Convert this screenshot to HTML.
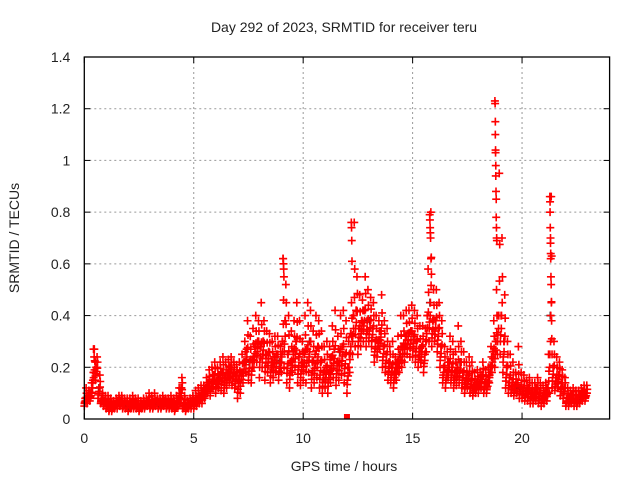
<!DOCTYPE html>
<html><head><meta charset="utf-8"><style>
body{margin:0;background:#fff}
svg text{font-family:"Liberation Sans",sans-serif;font-size:14px;fill:#222}
</style></head><body>
<svg id="c" width="640" height="480">
<text x="344" y="32" text-anchor="middle">Day 292 of 2023, SRMTID for receiver teru</text>
<text x="344" y="471" text-anchor="middle">GPS time / hours</text>
<text transform="translate(19,238) rotate(-90)" text-anchor="middle">SRMTID / TECUs</text>
<g id="grid"></g><g id="marks"></g><g id="axes"></g>
</svg>
<script>
const xTicks=[0,5,10,15,20];
const yTicks=[0,0.2,0.4,0.6,0.8,1,1.2,1.4];
const yTickLabels=["0","0.2","0.4","0.6","0.8","1","1.2","1.4"];
const binStart=0, binStep=0.125;
const loVals=[.05,.06,.07,.12,.15,.08,.06,.05,.04,.03,.03,.04,.04,.05,.04,.04,.03,.04,.04,.04,.03,.04,.04,.05,.04,.04,.05,.04,.04,.05,.04,.04,.04,.03,.05,.06,.04,.03,.04,.04,.04,.05,.06,.06,.08,.10,.09,.12,.10,.12,.11,.10,.12,.14,.13,.12,.08,.10,.14,.18,.15,.14,.20,.22,.16,.20,.15,.18,.14,.16,.18,.15,.18,.20,.14,.12,.18,.20,.14,.13,.15,.14,.18,.12,.14,.16,.12,.10,.12,.10,.14,.16,.13,.15,.17,.14,.10,.18,.25,.28,.25,.28,.30,.28,.30,.28,.22,.24,.27,.20,.18,.15,.14,.12,.15,.18,.20,.22,.25,.24,.24,.22,.20,.22,.18,.26,.30,.28,.30,.26,.20,.14,.12,.16,.14,.12,.13,.14,.12,.10,.12,.10,.09,.10,.10,.12,.10,.10,.14,.18,.20,.25,.25,.18,.12,.10,.10,.09,.10,.08,.08,.07,.07,.06,.06,.07,.06,.05,.06,.07,.10,.12,.11,.12,.09,.08,.05,.05,.06,.05,.05,.06,.07,.07];
const midVals=[.08,.09,.10,.18,.20,.12,.08,.07,.06,.05,.05,.06,.07,.07,.06,.06,.05,.06,.06,.06,.05,.06,.06,.07,.06,.06,.07,.06,.06,.07,.06,.06,.06,.05,.08,.12,.06,.05,.06,.07,.07,.08,.09,.10,.12,.14,.14,.17,.15,.17,.18,.16,.18,.20,.18,.17,.15,.18,.22,.27,.22,.23,.28,.30,.28,.30,.25,.26,.22,.24,.25,.22,.30,.38,.25,.22,.26,.30,.24,.22,.25,.27,.30,.22,.25,.28,.22,.18,.20,.18,.24,.27,.22,.26,.28,.25,.20,.33,.40,.42,.35,.38,.42,.38,.38,.35,.30,.30,.34,.28,.25,.22,.20,.18,.22,.25,.28,.32,.33,.34,.32,.30,.26,.28,.25,.40,.45,.38,.38,.35,.28,.20,.18,.22,.20,.18,.20,.22,.18,.15,.17,.15,.13,.14,.14,.17,.14,.14,.20,.26,.30,.40,.40,.30,.20,.16,.14,.13,.14,.12,.12,.11,.12,.10,.10,.12,.10,.09,.10,.12,.40,.20,.16,.17,.14,.12,.08,.08,.09,.08,.08,.09,.10,.10];
const hiVals=[.12,.11,.14,.27,.24,.17,.10,.09,.09,.08,.07,.08,.09,.09,.08,.08,.08,.09,.08,.08,.07,.08,.08,.10,.09,.10,.08,.08,.09,.08,.08,.09,.08,.09,.12,.16,.09,.07,.08,.09,.11,.12,.13,.13,.16,.19,.20,.22,.20,.22,.24,.22,.23,.24,.22,.21,.22,.25,.30,.38,.32,.35,.40,.38,.45,.38,.34,.33,.30,.32,.32,.28,.62,.52,.40,.34,.38,.45,.38,.30,.40,.45,.42,.34,.40,.38,.34,.28,.30,.28,.36,.42,.32,.40,.42,.38,.30,.45,.76,.55,.48,.46,.55,.50,.47,.45,.40,.38,.48,.38,.35,.28,.30,.24,.32,.40,.40,.42,.42,.44,.42,.40,.36,.36,.35,.58,.80,.50,.50,.45,.38,.28,.26,.32,.30,.26,.36,.30,.26,.22,.24,.22,.18,.19,.18,.22,.19,.20,.28,.38,.50,.95,.70,.48,.30,.25,.22,.18,.28,.18,.17,.15,.16,.14,.14,.16,.14,.13,.14,.25,.86,.30,.24,.22,.19,.16,.12,.11,.12,.11,.11,.12,.13,.13];
const spikeTimes=[18.76,18.77,18.78,18.78,18.79,18.79,18.8,18.8,18.81,18.82,18.82,18.83,18.84,18.85,21.27,21.28,21.28,21.29,21.3,21.3,21.31,21.31,21.32,21.33,21.34,21.35,21.36,21.37,15.78,15.79,15.8,15.81,15.82,15.84,15.86,12.2,12.21,12.22,12.23,9.08,9.1,9.11,9.12,0.42,0.45,0.5];
const spikeVals=[1.23,1.22,1.15,1.10,1.04,1.03,0.98,0.94,0.88,0.85,0.78,0.74,0.70,0.69,0.86,0.84,0.80,0.74,0.70,0.68,0.64,0.62,0.55,0.52,0.45,0.38,0.31,0.25,0.79,0.77,0.74,0.72,0.70,0.62,0.56,0.76,0.74,0.69,0.61,0.62,0.60,0.58,0.55,0.27,0.24,0.22];
const X0=84.3,X1=609.6,Y0=419,Y1=57,XMAX=24,YMAX=1.4;
const sx=v=>X0+(X1-X0)*v/XMAX, sy=v=>Y0-(Y0-Y1)*v/YMAX;
const NS="http://www.w3.org/2000/svg";
function mk(t,a,p){const e=document.createElementNS(NS,t);for(const k in a)e.setAttribute(k,a[k]);p.appendChild(e);return e;}
const grid=document.getElementById('grid'),axes=document.getElementById('axes'),marks=document.getElementById('marks');
xTicks.forEach((v,i)=>{const x=sx(v);
 if(v>0){const g=mk('line',{x1:x,x2:x,y1:Y1,y2:Y0,stroke:'#999','stroke-dasharray':'2,3'},grid);
 
 }
 mk('line',{x1:x,x2:x,y1:Y0,y2:Y0-6,stroke:'#000'},axes);mk('line',{x1:x,x2:x,y1:Y1,y2:Y1+6,stroke:'#000'},axes);
 const t=mk('text',{x:x,y:Y0+24,'text-anchor':'middle'},axes);t.textContent=v;
 
 });
yTicks.forEach((v,i)=>{const y=sy(v);
 if(v>0&&v<1.4){const g=mk('line',{x1:X0,x2:X1,y1:y,y2:y,stroke:'#999','stroke-dasharray':'2,3'},grid);
 
 }
 mk('line',{x1:X0,x2:X0+6,y1:y,y2:y,stroke:'#000'},axes);mk('line',{x1:X1,x2:X1-6,y1:y,y2:y,stroke:'#000'},axes);
 const t=mk('text',{x:X0-14,y:y+5,'text-anchor':'end'},axes);t.textContent=yTickLabels[i];
 
 });
const fr=mk('rect',{x:X0,y:Y1,width:X1-X0,height:Y0-Y1,fill:'none',stroke:'#000','stroke-width':1.3},axes);


function plus(t,v,col){const x=sx(t),y=sy(v);
 const p=mk('path',{d:`M${x-4},${y}h8M${x},${y-4}v8`,stroke:col,'stroke-width':1.6,fill:'none'},marks);
 
 }
[loVals,midVals,hiVals].forEach((arr,s)=>arr.forEach((v,i)=>{
 const t=binStart+i*binStep+s*binStep/3;
 plus(t,v,(i%11==5&&s==1)?'#333':'#f00');
 plus(t+binStep/6,(v+midVals[i])/2,'#f00');
 plus(t+binStep/12,(v+loVals[i]+midVals[i])/3,'#f00');}));
spikeTimes.forEach((t,i)=>plus(t,spikeVals[i],'#f00'));
const sq=mk('rect',{x:sx(12)-3,y:Y0-5,width:6,height:5,fill:'#f00'},marks);


</script>
</body></html>
